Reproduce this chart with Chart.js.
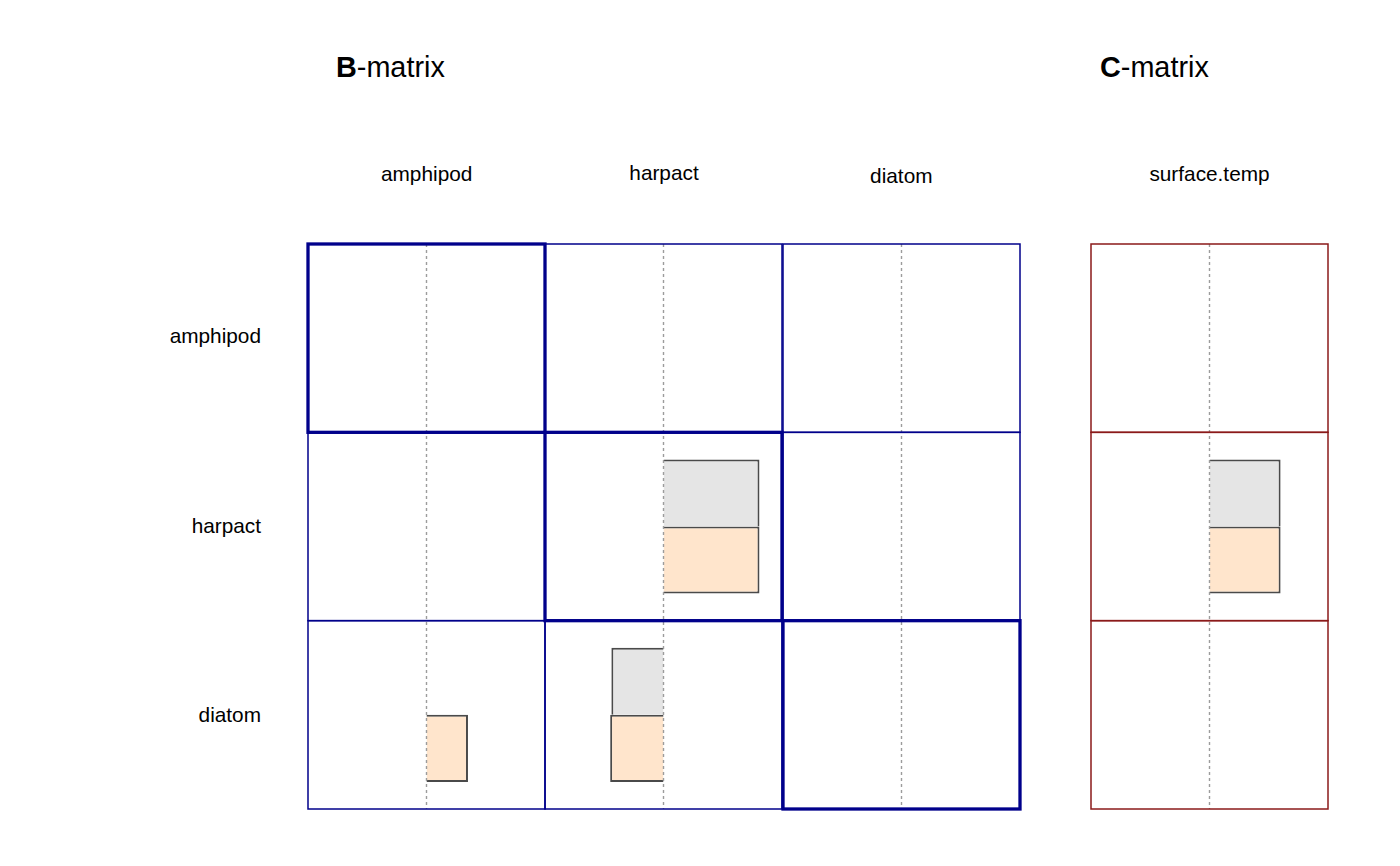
<!DOCTYPE html>
<html>
<head>
<meta charset="utf-8">
<script src="https://cdn.jsdelivr.net/npm/chart.js@4/dist/chart.umd.min.js"></script>
<style>
  html, body { margin: 0; padding: 0; background: #ffffff; }
  #page { position: relative; width: 1400px; height: 866px; overflow: hidden; font-family: "Liberation Sans", Arial, Helvetica, sans-serif; color: #000; }
  canvas { position: absolute; }
  .lbl { position: absolute; white-space: nowrap; font-size: 20.8px; line-height: 1; }
  .title { position: absolute; white-space: nowrap; font-size: 28.8px; line-height: 1; }
</style>
</head>
<body>
<div id="page"></div>
<script>
// ---------- data ----------
const rowNames = ['amphipod', 'harpact', 'diatom'];
const bColNames = ['amphipod', 'harpact', 'diatom'];
const cColNames = ['surface.temp'];

// B-matrix estimates, one array per column (values for rows amphipod, harpact, diatom)
const bGreyAmphipod = [null, null, null];
const bGreyHarpact  = [null, 0.81, -0.44];
const bGreyDiatom   = [null, null, null];
const bPeachAmphipod = [null, null, 0.35];
const bPeachHarpact  = [null, 0.81, -0.45];
const bPeachDiatom   = [null, null, null];

// C-matrix estimates (column surface.temp)
const cGreySurfaceTemp  = [null, 0.60, null];
const cPeachSurfaceTemp = [null, 0.60, null];

const valueRange = [-1, 1];

// ---------- layout ----------
const page = document.getElementById('page');
const PAD = 4;
const gridTop = 244, gridBottom = 809;
const bLeft = 308, bRight = 1020;
const cLeft = 1091, cRight = 1328;
const colW = (bRight - bLeft) / 3;

const cellPlugin = {
  id: 'cellgrid',
  afterDatasetsDraw(chart, args, opts) {
    const { ctx, chartArea: a, scales: { x, y } } = chart;
    const n = y.getLabels().length;
    const step = (a.bottom - a.top) / n;
    ctx.save();
    // dashed zero line
    const x0 = x.getPixelForValue(0);
    ctx.strokeStyle = '#9c9c9c';
    ctx.lineWidth = 1.4;
    ctx.setLineDash([3, 3]);
    ctx.beginPath();
    ctx.moveTo(x0, a.top);
    ctx.lineTo(x0, a.bottom);
    ctx.stroke();
    ctx.setLineDash([]);
    // cell borders
    ctx.strokeStyle = opts.color;
    ctx.lineWidth = 1.5;
    for (let i = 0; i < n; i++) {
      const top = y.getPixelForValue(i) - step / 2;
      ctx.strokeRect(a.left, top, a.right - a.left, step);
    }
    if (opts.diag !== null && opts.diag !== undefined) {
      ctx.lineWidth = 3.3;
      const top = y.getPixelForValue(opts.diag) - step / 2;
      ctx.strokeRect(a.left, top, a.right - a.left, step);
    }
    ctx.restore();
  }
};

function makeCell(left, width, greyVals, peachVals, color, diag) {
  const cv = document.createElement('canvas');
  const w = Math.round(width + 2 * PAD);
  const h = Math.round(gridBottom - gridTop + 2 * PAD);
  cv.width = w; cv.height = h;
  cv.style.left = (left - PAD) + 'px';
  cv.style.top = (gridTop - PAD) + 'px';
  cv.style.width = w + 'px';
  cv.style.height = h + 'px';
  page.appendChild(cv);
  new Chart(cv, {
    type: 'bar',
    data: {
      labels: rowNames,
      datasets: [
        { label: 'grey', data: greyVals, backgroundColor: '#e5e5e5', borderColor: '#4a4a4a',
          borderWidth: { top: 2, right: 2, bottom: 0, left: 2 },
          categoryPercentage: 0.712, barPercentage: 1.0 },
        { label: 'peach', data: peachVals, backgroundColor: '#ffe5cc', borderColor: '#4a4a4a',
          borderWidth: 2,
          categoryPercentage: 0.712, barPercentage: 1.0 }
      ]
    },
    options: {
      indexAxis: 'y',
      responsive: false,
      animation: false,
      devicePixelRatio: 1,
      layout: { padding: PAD },
      scales: {
        x: { type: 'linear', min: valueRange[0], max: valueRange[1], display: false },
        y: { type: 'category', display: false, offset: true }
      },
      plugins: {
        legend: { display: false },
        tooltip: { enabled: false },
        cellgrid: { color: color, diag: diag }
      }
    },
    plugins: [cellPlugin]
  });
}

const bGrey = [bGreyAmphipod, bGreyHarpact, bGreyDiatom];
const bPeach = [bPeachAmphipod, bPeachHarpact, bPeachDiatom];
for (let j = 0; j < 3; j++) {
  makeCell(bLeft + j * colW, colW, bGrey[j], bPeach[j], '#00008b', j);
}
makeCell(cLeft, cRight - cLeft, cGreySurfaceTemp, cPeachSurfaceTemp, '#8b1a1a', null);

// ---------- text ----------
function addText(cls, html, x, y, align) {
  const d = document.createElement('div');
  d.className = cls;
  d.innerHTML = html;
  d.style.left = x + 'px';
  d.style.top = y + 'px';
  let tx = '0';
  if (align === 'center') tx = '-50%';
  if (align === 'right') tx = '-100%';
  d.style.transform = 'translate(' + tx + ', -50%)';
  page.appendChild(d);
}
addText('title', '<b>B</b>-matrix', 336, 67, 'left');
addText('title', '<b>C</b>-matrix', 1100, 67, 'left');

const colLabelY = [174, 173, 176];
bColNames.forEach((n, j) => addText('lbl', n, bLeft + (j + 0.5) * colW, colLabelY[j], 'center'));
cColNames.forEach((n) => addText('lbl', n, (cLeft + cRight) / 2, 174, 'center'));

const rowLabelY = [336, 525.5, 715];
rowNames.forEach((n, i) => addText('lbl', n, 261, rowLabelY[i], 'right'));
</script>
</body>
</html>
